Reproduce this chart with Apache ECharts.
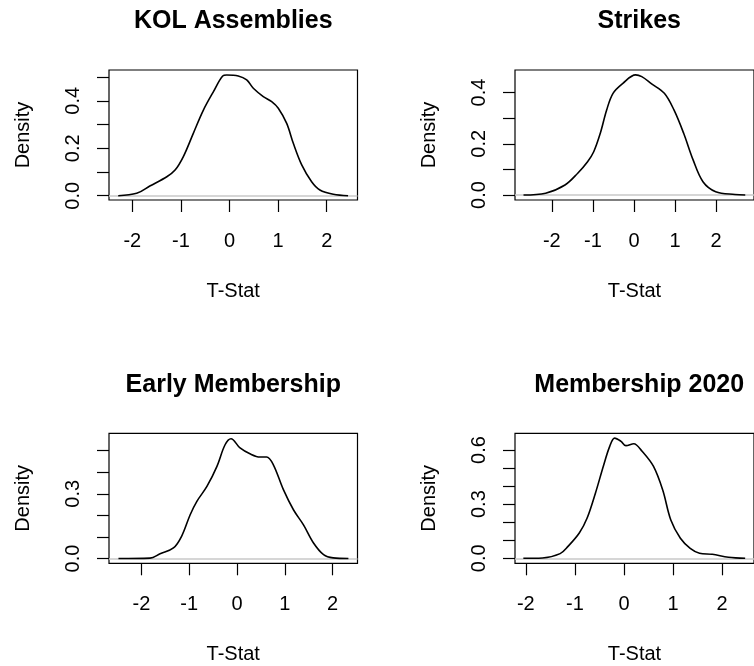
<!DOCTYPE html>
<html><head><meta charset="utf-8">
<script src="https://cdn.jsdelivr.net/npm/echarts@6/dist/echarts.min.js"></script>
<style>html,body{margin:0;padding:0;background:#fff;overflow:hidden}#c{width:754px;height:666px}</style>
</head><body><div id="c"></div>
<script>
// ---- data ----
const titles = ['KOL Assemblies', 'Strikes', 'Early Membership', 'Membership 2020'];
const xAxisName = 'T-Stat';
const yAxisName = 'Density';

const kolX = [-2.29,-1.91,-1.64,-1.29,-1.12,-0.95,-0.745,-0.54,-0.33,-0.14,-0.058,0.18,0.354,0.49,0.695,0.868,1.004,1.177,1.313,1.486,1.69,1.86,2.136,2.44];
const kolY = [0.0,0.010,0.041,0.080,0.108,0.165,0.263,0.36,0.439,0.505,0.509,0.505,0.488,0.453,0.418,0.397,0.369,0.305,0.221,0.130,0.059,0.024,0.006,0.0];

const strX = [-2.69,-2.15,-1.68,-1.37,-1.13,-0.98,-0.82,-0.665,-0.51,-0.27,0.04,0.19,0.43,0.74,0.974,1.21,1.44,1.68,1.99,2.46,2.71];
const strY = [0.0,0.007,0.039,0.085,0.130,0.169,0.241,0.332,0.397,0.436,0.469,0.462,0.434,0.397,0.332,0.241,0.137,0.052,0.013,0.002,0.0];

const earX = [-2.48,-1.82,-1.61,-1.33,-1.16,-0.98,-0.84,-0.63,-0.42,-0.25,-0.126,0.063,0.27,0.48,0.62,0.76,0.97,1.18,1.39,1.60,1.81,2.01,2.33];
const earY = [0.0,0.002,0.022,0.049,0.103,0.203,0.265,0.334,0.427,0.527,0.555,0.512,0.485,0.47,0.47,0.434,0.319,0.226,0.156,0.072,0.018,0.003,0.0];

const m20X = [-2.05,-1.66,-1.30,-1.14,-0.91,-0.75,-0.58,-0.42,-0.29,-0.19,-0.06,0.04,0.20,0.37,0.60,0.79,0.955,1.15,1.35,1.54,1.80,2.13,2.47];
const m20Y = [0.0,0.002,0.026,0.066,0.140,0.223,0.362,0.51,0.62,0.666,0.648,0.624,0.635,0.593,0.51,0.378,0.212,0.111,0.055,0.028,0.022,0.006,0.0];

const xTicks = [-2, -1, 0, 1, 2];
const yTicks = [
  [0, 0.1, 0.2, 0.3, 0.4, 0.5],
  [0, 0.1, 0.2, 0.3, 0.4],
  [0, 0.1, 0.2, 0.3, 0.4, 0.5],
  [0, 0.1, 0.2, 0.3, 0.4, 0.5, 0.6]
];
const yLabels = [
  [0, 0.2, 0.4],
  [0, 0.2, 0.4],
  [0, 0.3],
  [0, 0.3, 0.6]
];
const xRanges = [[-2.48, 2.634], [-2.897, 2.923], [-2.678, 2.52], [-2.22, 2.65]];
const yRanges = [[-0.018, 0.530], [-0.0195, 0.488], [-0.022, 0.580], [-0.0277, 0.6925]];

// ---- chart ----
const seriesXY = [[kolX, kolY], [strX, strY], [earX, earY], [m20X, m20Y]];
const FONT = '"Liberation Sans", Arial, Helvetica, sans-serif';
const gridPos = [
  {left: 109, top: 70}, {left: 515, top: 70},
  {left: 109, top: 433.3}, {left: 515, top: 433.3}
];
const GW = 248.5, GH = 130;

const grids = [], xAxes = [], yAxes = [], series = [], graphics = [];
for (let i = 0; i < 4; i++) {
  grids.push({left: gridPos[i].left, top: gridPos[i].top, width: GW, height: GH,
    show: true, borderColor: '#000', borderWidth: 1.2, backgroundColor: 'transparent', containLabel: false});
  xAxes.push({
    type: 'value', gridIndex: i, min: xRanges[i][0], max: xRanges[i][1], position: 'bottom',
    splitLine: {show: false}, axisLine: {show: false, onZero: false},
    axisTick: {show: true, length: 12, lineStyle: {color: '#000', width: 1.2}, customValues: xTicks},
    axisLabel: {show: true, customValues: xTicks, margin: 31, color: '#000', fontSize: 20, fontFamily: FONT,
      formatter: v => String(v)},
    name: xAxisName, nameLocation: 'middle', nameGap: 81,
    nameTextStyle: {color: '#000', fontSize: 20, fontFamily: FONT}
  });
  yAxes.push({
    type: 'value', gridIndex: i, min: yRanges[i][0], max: yRanges[i][1], position: 'left',
    splitLine: {show: false}, axisLine: {show: false, onZero: false},
    axisTick: {show: true, length: 12, lineStyle: {color: '#000', width: 1.2}, customValues: yTicks[i]},
    axisLabel: {show: true, customValues: yLabels[i], rotate: 90, margin: 26, color: '#000', fontSize: 20, fontFamily: FONT,
      formatter: v => Number(v).toFixed(1)},
    name: yAxisName, nameLocation: 'middle', nameGap: 76, nameRotate: 90,
    nameTextStyle: {color: '#000', fontSize: 20, fontFamily: FONT}
  });
  const xs = seriesXY[i][0], ys = seriesXY[i][1];
  series.push({
    type: 'line', xAxisIndex: i, yAxisIndex: i,
    data: xs.map((x, k) => [x, ys[k]]),
    showSymbol: false, smooth: 0.35,
    lineStyle: {color: '#000', width: 1.6},
    z: 3,
    markLine: {
      silent: true, symbol: 'none', z: 2,
      label: {show: false},
      lineStyle: {color: '#c8c8c8', type: 'solid', width: 1.5},
      data: [{yAxis: 0}]
    }
  });
  const cx = gridPos[i].left + GW / 2;
  const cy = gridPos[i].top - 48.5;
  graphics.push({
    type: 'text', x: cx, y: cy,
    style: {text: titles[i], font: 'bold 25px ' + FONT, fill: '#000',
      align: 'center', verticalAlign: 'middle', textAlign: 'center', textVerticalAlign: 'middle'}
  });
}

const chart = echarts.init(document.getElementById('c'), null, {renderer: 'canvas'});
chart.setOption({
  animation: false,
  backgroundColor: '#fff',
  grid: grids, xAxis: xAxes, yAxis: yAxes, series: series,
  graphic: graphics
});
</script>
</body></html>
